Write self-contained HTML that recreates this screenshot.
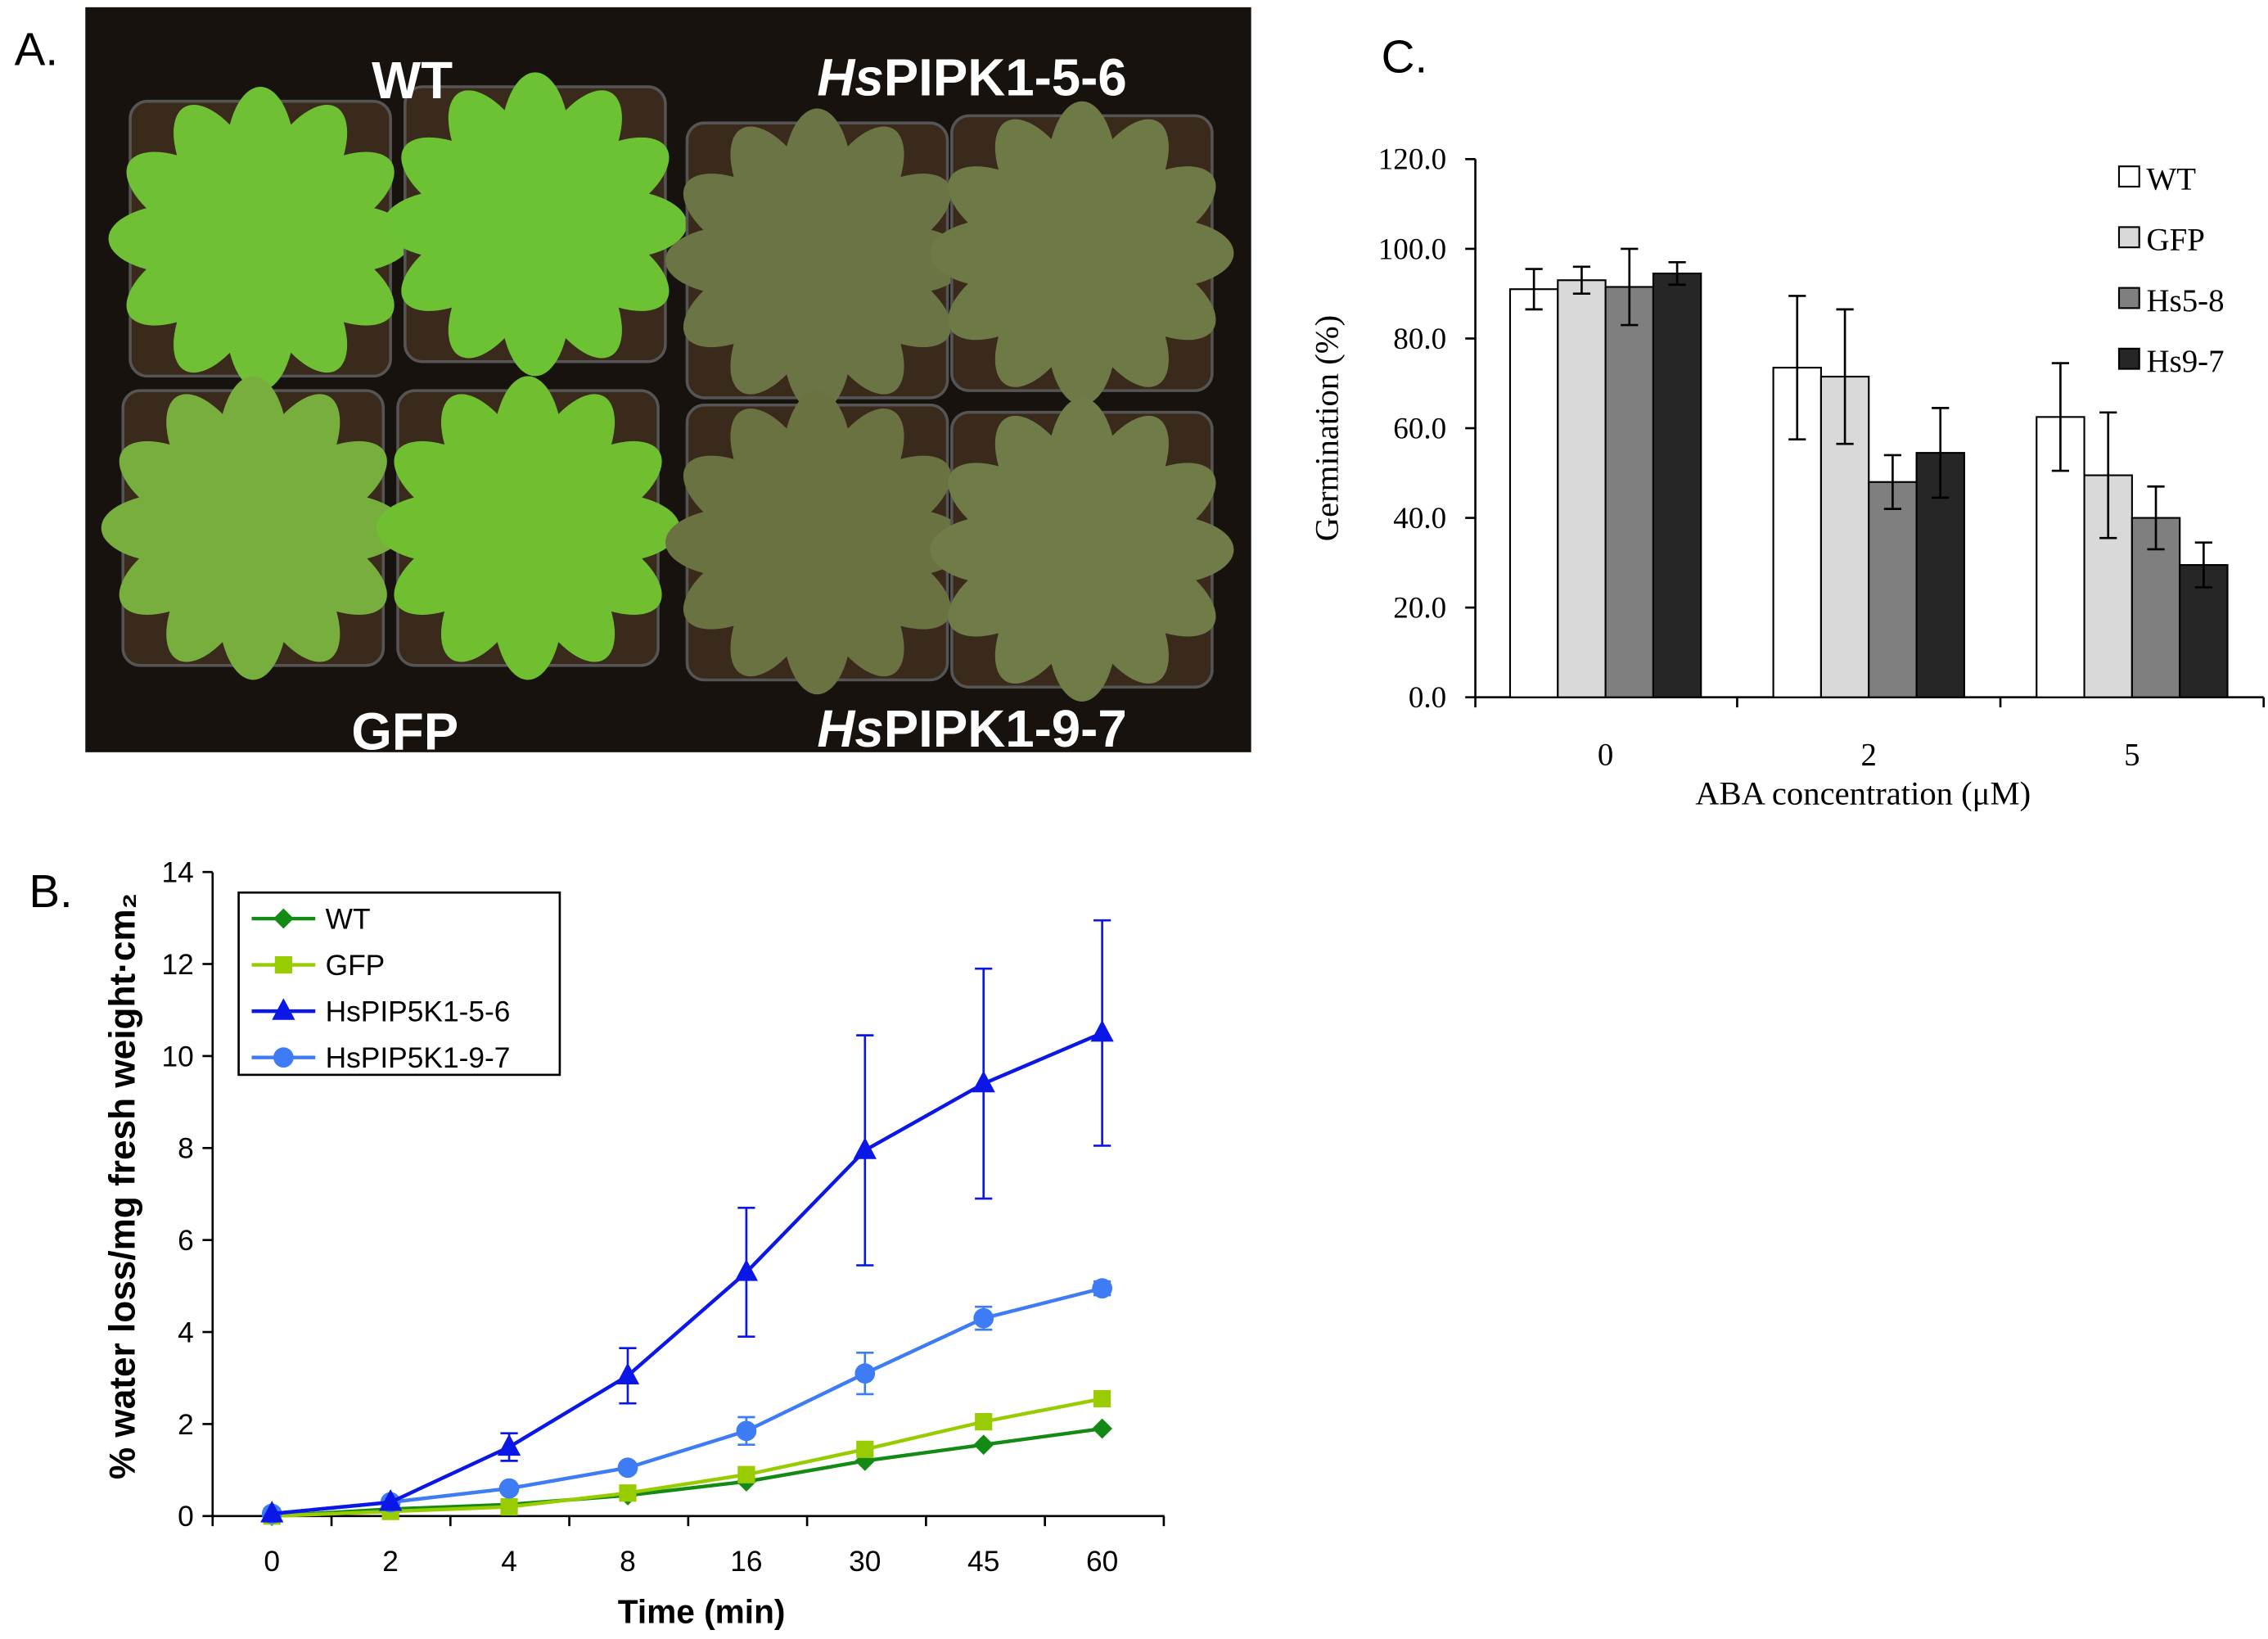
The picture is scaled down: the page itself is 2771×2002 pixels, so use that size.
<!DOCTYPE html>
<html><head><meta charset="utf-8"><style>
html,body{margin:0;padding:0;background:#fff;}
svg{display:block;}
</style></head><body>
<svg id="fig" width="2771" height="2002" viewBox="0 0 1568 1133" preserveAspectRatio="none" xmlns="http://www.w3.org/2000/svg">
<g id="panelA">
<text x="10" y="45" font-family="Liberation Sans, sans-serif" font-size="32">A.</text>
<rect x="59" y="5" width="806" height="515" fill="#17120e"/>
<g id="pots"></g>
<text x="285" y="68" fill="#fff" font-family="Liberation Sans, sans-serif" font-weight="bold" font-size="36" text-anchor="middle">WT</text>
<text x="672" y="66" fill="#fff" font-family="Liberation Sans, sans-serif" font-weight="bold" font-size="36" text-anchor="middle"><tspan font-style="italic">Hs</tspan>PIPK1-5-6</text>
<text x="280" y="518" fill="#fff" font-family="Liberation Sans, sans-serif" font-weight="bold" font-size="36" text-anchor="middle">GFP</text>
<text x="672" y="516" fill="#fff" font-family="Liberation Sans, sans-serif" font-weight="bold" font-size="36" text-anchor="middle"><tspan font-style="italic">Hs</tspan>PIPK1-9-7</text>
</g>
<g id="panelB" font-family="Liberation Sans, sans-serif"></g>
<g id="panelC" font-family="Liberation Serif, serif"></g>
</svg>
<script>
const NS='http://www.w3.org/2000/svg';
function mk(parent,tag,attrs,text){const e=document.createElementNS(NS,tag);for(const k in attrs)e.setAttribute(k,attrs[k]);if(text!==undefined)e.textContent=text;parent.appendChild(e);return e;}

// ---------- Panel A pots ----------
const pots=document.getElementById('pots');
const potCenters=[[180,165,'#6fc034'],[370,155,'#6cc232'],[565,180,'#6b7444'],[748,175,'#6d7a46'],[175,365,'#78ae3e'],[365,365,'#6fbf30'],[565,375,'#6a7242'],[748,380,'#6f7c48']];
potCenters.forEach(p=>{
  const g=mk(pots,'g',{});
  
  
  mk(g,'rect',{x:p[0]-90,y:p[1]-95,width:180,height:190,rx:12,fill:'#3a2a1c',stroke:'#555',"stroke-width":2});
  for(let i=0;i<12;i++){const a=i*Math.PI/6;const cx=p[0]+Math.cos(a)*55,cyy=p[1]+Math.sin(a)*55;mk(g,'ellipse',{cx:cx,cy:cyy,rx:50,ry:24,transform:`rotate(${i*30} ${cx} ${cyy})`,fill:p[2]});}
  mk(g,'circle',{cx:p[0],cy:p[1],r:50,fill:p[2]});
});

// ---------- Panel B ----------
const bCats=['0','2','4','8','16','30','45','60'];
const bYTicks=[0,2,4,6,8,10,12,14];
const wtVals=[0,0.15,0.25,0.45,0.75,1.2,1.55,1.9];
const gfpVals=[0,0.1,0.2,0.5,0.9,1.45,2.05,2.55];
const hs56Vals=[0.05,0.3,1.5,3.05,5.3,7.95,9.4,10.5];
const hs56Err=[0,0,0.3,0.6,1.4,2.5,2.5,2.45];
const hs97Vals=[0.05,0.3,0.6,1.05,1.85,3.1,4.3,4.95];
const hs97Err=[0,0,0,0.1,0.3,0.45,0.25,0.15];
const B=document.getElementById('panelB');
const bx=i=>188+i*82, by=v=>1048-v*31.8;
mk(B,'text',{x:20,y:627,"font-size":32,},'B.');
mk(B,'line',{x1:147,y1:603,x2:147,y2:1048,stroke:'#000',"stroke-width":1.5,});
mk(B,'line',{x1:147,y1:1048,x2:805,y2:1048,stroke:'#000',"stroke-width":1.5,});
bYTicks.forEach(t=>{
  mk(B,'line',{x1:140,y1:by(t),x2:147,y2:by(t),stroke:'#000',"stroke-width":1.5});
  const e=mk(B,'text',{x:134,y:by(t)+7,"font-size":20,"text-anchor":'end'},t);
  
  
});
for(let i=0;i<=8;i++){const x=147+i*82.2;mk(B,'line',{x1:x,y1:1048,x2:x,y2:1055,stroke:'#000',"stroke-width":1.5});}
bCats.forEach((c,i)=>{
  const e=mk(B,'text',{x:bx(i),y:1086,"font-size":20,"text-anchor":'middle'},c);
  
  
});
mk(B,'text',{x:485,y:1122,"font-size":23,"font-weight":'bold',"text-anchor":'middle',},'Time (min)');
mk(B,'text',{x:0,y:0,"font-size":25,"font-weight":'bold',"text-anchor":'middle',transform:'translate(93,820) rotate(-90)',},'%  water loss/mg fresh weight·cm\u2082');
function marker(g,shape,x,y,col){
  if(shape==='d')mk(g,'polygon',{points:`${x},${y-7} ${x+7},${y} ${x},${y+7} ${x-7},${y}`,fill:col});
  else if(shape==='s')mk(g,'rect',{x:x-6,y:y-6,width:12,height:12,fill:col});
  else if(shape==='t')mk(g,'polygon',{points:`${x},${y-9} ${x+8},${y+6} ${x-8},${y+6}`,fill:col});
  else mk(g,'circle',{cx:x,cy:y,r:7,fill:col});
}
const series=[[wtVals,null,'#138a13','d','wt'],[gfpVals,null,'#99cc00','s','gfp'],[hs97Vals,hs97Err,'#3d7cf5','c','hspip5k1-9-7'],[hs56Vals,hs56Err,'#0b17e6','t','hspip5k1-5-6']];
series.forEach(s=>{
  const g=mk(B,'g',{});
  
  
  if(s[1])s[0].forEach((v,i)=>{if(s[1][i]>0){const x=bx(i);mk(g,'line',{x1:x,y1:by(v-s[1][i]),x2:x,y2:by(v+s[1][i]),stroke:s[2],"stroke-width":1.5});[v-s[1][i],v+s[1][i]].forEach(w=>mk(g,'line',{x1:x-6,y1:by(w),x2:x+6,y2:by(w),stroke:s[2],"stroke-width":1.5}));}});
  mk(g,'polyline',{points:s[0].map((v,i)=>bx(i)+','+by(v)).join(' '),fill:'none',stroke:s[2],"stroke-width":2.5});
  s[0].forEach((v,i)=>marker(g,s[3],bx(i),by(v),s[2]));
});
const lg=mk(B,'g',{});
mk(lg,'rect',{x:165,y:617,width:222,height:126,fill:'#fff',stroke:'#000',"stroke-width":1.5});
[['WT','#138a13','d'],['GFP','#99cc00','s'],['HsPIP5K1-5-6','#0b17e6','t'],['HsPIP5K1-9-7','#3d7cf5','c']].forEach((l,i)=>{
  const y=635+i*32;
  const e=mk(lg,'g',{});
  
  
  mk(e,'line',{x1:174,y1:y,x2:218,y2:y,stroke:l[1],"stroke-width":2.5});
  marker(e,l[2],196,y,l[1]);
  mk(e,'text',{x:225,y:y+7,"font-size":20},l[0]);
});

// ---------- Panel C ----------
const cCats=['0','2','5'];
const cYTicks=[0,20,40,60,80,100,120];
const cWT=[91,73.5,62.5], cWTe=[4.5,16,12];
const cGFP=[93,71.5,49.5], cGFPe=[3,15,14];
const cHs58=[91.5,48,40], cHs58e=[8.5,6,7];
const cHs97=[94.5,54.5,29.5], cHs97e=[2.5,10,5];
const C=document.getElementById('panelC');
const cy=v=>482-v*3.1, gx=i=>1110+i*182;
mk(C,'text',{x:955,y:50,"font-size":32,"font-family":'Liberation Sans, sans-serif',},'C.');
mk(C,'line',{x1:1020,y1:110,x2:1020,y2:482,stroke:'#000',"stroke-width":1.5,});
mk(C,'line',{x1:1020,y1:482,x2:1565,y2:482,stroke:'#000',"stroke-width":1.5,});
cYTicks.forEach(t=>{
  mk(C,'line',{x1:1013,y1:cy(t),x2:1020,y2:cy(t),stroke:'#000',"stroke-width":1.5});
  const e=mk(C,'text',{x:1000,y:cy(t)+7,"font-size":21,"text-anchor":'end'},t.toFixed(1));
  
  
});
[1020,1201,1383,1565].forEach(x=>mk(C,'line',{x1:x,y1:482,x2:x,y2:489,stroke:'#000',"stroke-width":1.5}));
cCats.forEach((c,i)=>{
  const e=mk(C,'text',{x:gx(i),y:529,"font-size":22,"text-anchor":'middle'},c);
  
  
});
mk(C,'text',{x:1288,y:556,"font-size":23,"text-anchor":'middle',},'ABA concentration (\u03bcM)');
mk(C,'text',{x:0,y:0,"font-size":23,"text-anchor":'middle',transform:'translate(925,296) rotate(-90)',},'Germination (%)');
const cSeries=[[cWT,cWTe,'#ffffff','wt'],[cGFP,cGFPe,'#d9d9d9','gfp'],[cHs58,cHs58e,'#7f7f7f','hs5-8'],[cHs97,cHs97e,'#262626','hs9-7']];
const bw=33;
cSeries.forEach((s,k)=>{
  s[0].forEach((v,i)=>{
    const x=gx(i)-2*bw+k*bw;
    const r=mk(C,'rect',{x:x,y:cy(v),width:bw,height:482-cy(v),fill:s[2],stroke:'#000',"stroke-width":1.2});
    
    
    const cx=x+bw/2,lo=cy(v-s[1][i]),hi=cy(v+s[1][i]);
    mk(C,'line',{x1:cx,y1:lo,x2:cx,y2:hi,stroke:'#000',"stroke-width":1.5});
    mk(C,'line',{x1:cx-6,y1:lo,x2:cx+6,y2:lo,stroke:'#000',"stroke-width":1.5});
    mk(C,'line',{x1:cx-6,y1:hi,x2:cx+6,y2:hi,stroke:'#000',"stroke-width":1.5});
  });
});
[['WT','#ffffff'],['GFP','#d9d9d9'],['Hs5-8','#7f7f7f'],['Hs9-7','#262626']].forEach((l,i)=>{
  const y=123+i*42;
  const e=mk(C,'g',{});
  
  
  mk(e,'rect',{x:1465,y:y-8,width:14,height:14,fill:l[1],stroke:'#000',"stroke-width":1.2});
  mk(e,'text',{x:1484,y:y+8,"font-size":22},l[0]);
});
</script>
</body></html>
